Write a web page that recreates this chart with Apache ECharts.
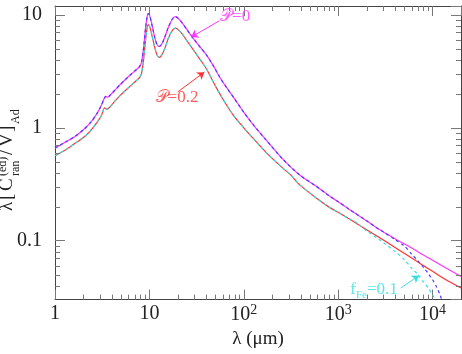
<!DOCTYPE html>
<html><head><meta charset="utf-8">
<script src="https://cdn.jsdelivr.net/npm/echarts@6/dist/echarts.min.js"></script>
<style>html,body{margin:0;padding:0;background:#fff}#c{width:462px;height:354px}</style>
</head><body><div id="c"></div>
<script>
// ---- axes ----
const xMin = 1, xMax = 20000, yMin = 0.03, yMax = 12;
const xMinorTicks = [2,3,4,5,6,7,8,9,20,30,40,50,60,70,80,90,200,300,400,500,600,700,800,900,2000,3000,4000,5000,6000,7000,8000,9000];
const yMinorTicks = [0.04,0.05,0.06,0.07,0.08,0.09,0.2,0.3,0.4,0.5,0.6,0.7,0.8,0.9,2,3,4,5,6,7,8,9];

// ---- P = 0 (magenta solid) ----
const p0Lambda = [1,1.3,1.6,2,2.4,2.8,3.1,3.3,3.45,3.6,3.8,4.3,4.83,5.5,6.3,7.2,7.9,8.3,8.7,9.1,9.5,9.75,10.1,10.6,11.3,12,12.7,13.5,14.5,16,17.5,18.8,20,22,25,30,35,40,48,55,65,80,100,130,170,257,400,580,800,1000,1300,2000,2700,4000,6000,8000,10000,14000,20000];
const p0Value  = [0.66,0.75,0.83,0.96,1.12,1.35,1.58,1.8,1.9,1.86,1.93,2.15,2.38,2.65,2.95,3.25,3.5,3.9,5.2,7.6,9.8,10.3,9.8,8.3,6.5,5.5,5.25,5.5,6.3,7.9,9.2,9.65,9.4,8.6,7.4,6.0,5.1,4.45,3.5,2.85,2.3,1.8,1.37,1.03,0.79,0.53,0.375,0.305,0.25,0.221,0.19,0.15,0.126,0.104,0.086,0.0745,0.067,0.057,0.048];

// ---- P = 0.2 (red solid) ----
const p02Lambda = [1,1.3,1.6,2,2.4,2.8,3.1,3.35,3.55,3.8,4.3,4.83,5.5,6.3,7.2,7.9,8.3,8.7,9.1,9.5,9.75,10.1,10.6,11.3,12,12.7,13.5,14.5,16,17.5,18.8,20,22,25,30,35,40,50,60,78,100,130,172,250,316,386,600,800,1000,1300,2000,2700,4000,6000,8000,10000,14000,20000];
const p02Value  = [0.565,0.64,0.72,0.82,0.95,1.12,1.28,1.5,1.46,1.52,1.72,1.91,2.12,2.35,2.6,2.8,3.1,4.1,6.0,7.8,8.2,7.8,6.7,5.3,4.45,4.2,4.4,5.0,6.3,7.3,7.65,7.45,6.85,5.9,4.75,3.95,3.35,2.35,1.8,1.28,1.0,0.78,0.606,0.45,0.38,0.315,0.235,0.198,0.178,0.156,0.125,0.107,0.087,0.070,0.060,0.0535,0.0447,0.038];

// ---- f_Fe = 0.1 tails (dashed), they follow the solid curves below the split point ----
const feSplitP0 = 3000;
const feTailP0Lambda = [3000,4000,5000,6000,7000,8000,9000,10000,11000,12000,13000];
const feTailP0Value  = [0.120,0.102,0.090,0.076,0.066,0.058,0.051,0.045,0.039,0.033,0.027];
const feSplitP02 = 1500;
const feTailP02Lambda = [1500,2000,2700,4000,5000,6000,7000,8000,9000,10000,10700,11500];
const feTailP02Value  = [0.148,0.122,0.103,0.080,0.068,0.057,0.050,0.043,0.038,0.033,0.030,0.026];

// ---- annotations ----
const annotText = ['{p|𝒫}{t|=0}', '{p|𝒫}{t|=0.2}', '{t|f}{s|Fe}{t|=0.1}'];
const annotAt   = [[81, 9.75], [19.6, 1.85], [2400, 0.037]];
const annotColor = ['#ff33ff', '#ff3333', '#33e0e0'];
const arrowFrom = [[55.1, 8.87], [20, 2.08], [4590, 0.038]];
const arrowTo   = [[27.7, 6.36], [38.2, 3.11], [7180, 0.049]];

const col = {mag:'#ff33ff', blue:'#4a3cff', red:'#ff3333', cyan:'#33dede'};
const tickColor = '#777';
const axisColor = '#444';
const serif = '"Liberation Serif", "DejaVu Serif", serif';

function zip(a, b) { return a.map((v, i) => [v, b[i]]); }
function withTail(lam, val, split, tl, tv) {
  const head = [];
  lam.forEach((l, i) => { if (l < split) head.push([l, val[i]]); });
  return head.concat(zip(tl, tv));
}

function minorTicks(vals, dir) {
  return {
    type: 'custom', silent: true, clip: false, z: 5,
    encode: {x: 0, y: 1},
    data: vals.map(v => dir === 'x' ? [v, yMin] : [xMin, v]),
    renderItem(params, api) {
      const cs = params.coordSys;
      const p = api.coord([api.value(0), api.value(1)]);
      const st = {stroke: tickColor, lineWidth: 1};
      if (dir === 'x') {
        const x = Math.round(p[0]) + 0.5;
        return {type: 'group', children: [
          {type: 'line', shape: {x1: x, y1: cs.y + cs.height, x2: x, y2: cs.y + cs.height - 5}, style: st},
          {type: 'line', shape: {x1: x, y1: cs.y, x2: x, y2: cs.y + 5}, style: st}
        ]};
      }
      const y = Math.round(p[1]) + 0.5;
      return {type: 'group', children: [
        {type: 'line', shape: {x1: cs.x, y1: y, x2: cs.x + 5, y2: y}, style: st},
        {type: 'line', shape: {x1: cs.x + cs.width, y1: y, x2: cs.x + cs.width - 5, y2: y}, style: st}
      ]};
    }
  };
}

function xFmt(v) {
  const e = Math.round(Math.log10(v));
  if (e === 0) return '{b|1}';
  if (e === 1) return '{b|10}';
  return '{b|10}{s|' + e + '}';
}
function yFmt(v) {
  const e = Math.round(Math.log10(v));
  return e === -1 ? '0.1' : e === 0 ? '1' : '10';
}

const richX = {
  b: {fontSize: 20, fontFamily: serif, color: '#222'},
  s: {fontSize: 14, fontFamily: serif, color: '#222', padding: [0, 0, 9, 0]}
};

const chart = echarts.init(document.getElementById('c'), null, {renderer: 'canvas'});
const annotData = annotAt.map((p, i) => ({
  value: p,
  label: {formatter: annotText[i], color: annotColor[i],
    rich: {
      p: {fontSize: 17, fontFamily: '"DejaVu Serif", serif', color: annotColor[i]},
      t: {fontSize: 17, fontFamily: serif, color: annotColor[i]},
      s: {fontSize: 11, fontFamily: serif, color: annotColor[i], padding: [11, 0, 0, 0]}
    }}
}));
const arrowData = arrowFrom.map((f, i) => [
  {coord: f, lineStyle: {color: annotColor[i]}},
  {coord: arrowTo[i]}
]);

const yTitleStyle = {fontFamily: serif, fill: '#222', verticalAlign: 'bottom'};
function yt(text, x, y, size) {
  return {type: 'text', x: x, y: y, style: Object.assign({text: text, fontSize: size}, yTitleStyle)};
}

chart.setOption({
  animation: false,
  backgroundColor: '#fff',
  grid: {left: 55, right: 1, top: 6, bottom: 48},
  xAxis: [{
    type: 'log', min: xMin, max: xMax, logBase: 10,
    axisLine: {lineStyle: {color: axisColor}},
    axisTick: {inside: true, length: 10, lineStyle: {color: tickColor}},
    axisLabel: {formatter: xFmt, rich: richX, margin: 4, showMaxLabel: false},
    splitLine: {show: false},
    name: 'λ (μm)', nameLocation: 'middle', nameGap: 23,
    nameTextStyle: {fontSize: 19, fontFamily: serif, color: '#222'}
  }, {
    type: 'log', min: xMin, max: xMax, position: 'top',
    axisLine: {lineStyle: {color: axisColor}},
    axisTick: {inside: true, length: 10, lineStyle: {color: tickColor}},
    axisLabel: {show: false}, splitLine: {show: false}
  }],
  yAxis: [{
    type: 'log', min: yMin, max: yMax, logBase: 10,
    axisLine: {show: true, lineStyle: {color: axisColor}},
    axisTick: {inside: true, length: 10, lineStyle: {color: tickColor}},
    axisLabel: {formatter: yFmt, fontSize: 20, fontFamily: serif, color: '#222', margin: 13,
      showMinLabel: false, showMaxLabel: false},
    splitLine: {show: false}
  }, {
    type: 'log', min: yMin, max: yMax, position: 'right',
    axisLine: {show: true, lineStyle: {color: axisColor}},
    axisTick: {inside: true, length: 10, lineStyle: {color: tickColor}},
    axisLabel: {show: false}, splitLine: {show: false}
  }],
  graphic: [{
    type: 'group', x: 17, y: 211, rotation: Math.PI / 2,
    children: [
      yt('λ', 0, 0, 19),
      yt('[', 11, 0, 19),
      yt('C', 20, 0, 19),
      yt('(ed)', 35, -8, 12),
      yt('ran', 35, 5, 12),
      yt('/', 56, 0, 19),
      yt('V', 64, 0, 19),
      yt(']', 79, 0, 19),
      yt('Ad', 87, 5, 12)
    ]
  }],
  series: [
    minorTicks(xMinorTicks, 'x'),
    minorTicks(yMinorTicks, 'y'),
    {type: 'line', name: 'P=0', data: zip(p0Lambda, p0Value), showSymbol: false, smooth: 0.25,
      lineStyle: {color: col.mag, width: 1.2}, z: 2},
    {type: 'line', name: 'P=0 fFe', data: withTail(p0Lambda, p0Value, feSplitP0, feTailP0Lambda, feTailP0Value),
      showSymbol: false, smooth: 0.25, lineStyle: {color: col.blue, width: 1.2, type: [3, 3]}, z: 3},
    {type: 'line', name: 'P=0.2', data: zip(p02Lambda, p02Value), showSymbol: false, smooth: 0.25,
      lineStyle: {color: col.red, width: 1.2}, z: 2},
    {type: 'line', name: 'P=0.2 fFe', data: withTail(p02Lambda, p02Value, feSplitP02, feTailP02Lambda, feTailP02Value),
      showSymbol: false, smooth: 0.25, lineStyle: {color: col.cyan, width: 1.2, type: [3, 3]}, z: 3},
    {type: 'scatter', data: annotData, symbolSize: 0, silent: true, z: 6,
      label: {show: true, position: 'inside'},
      markLine: {silent: true, symbol: ['none', 'arrow'], symbolSize: 7, label: {show: false},
        lineStyle: {type: 'solid', width: 1}, data: arrowData}}
  ]
});
</script>
</body></html>
